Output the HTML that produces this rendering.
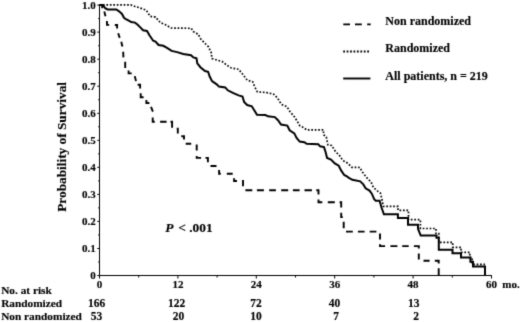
<!DOCTYPE html>
<html><head><meta charset="utf-8"><style>
html,body{margin:0;padding:0;background:#fff;width:520px;height:322px;overflow:hidden}
svg{display:block}
</style></head><body><svg width="520" height="322" viewBox="0 0 520 322"><filter id="soft" filterUnits="userSpaceOnUse" x="0" y="0" width="520" height="322" color-interpolation-filters="sRGB"><feConvolveMatrix order="3" kernelMatrix="0.0169 0.0962 0.0169 0.0962 0.5476 0.0962 0.0169 0.0962 0.0169" divisor="1" edgeMode="none" preserveAlpha="false"/></filter><rect width="520" height="322" fill="#fff"/><g filter="url(#soft)"><g font-family="Liberation Serif, Times New Roman, serif" font-weight="bold" stroke="#000" stroke-width="0.15" fill="#000"><text x="385.3" y="25.4" font-size="12">Non randomized</text><text x="385.3" y="52.3" font-size="12">Randomized</text><text x="385.3" y="79.6" font-size="12">All patients, n = 219</text><text x="95.8" y="279.2" font-size="11" text-anchor="end">0</text><text x="95.8" y="252.2" font-size="11" text-anchor="end">0.1</text><text x="95.8" y="225.1" font-size="11" text-anchor="end">0.2</text><text x="95.8" y="198.1" font-size="11" text-anchor="end">0.3</text><text x="95.8" y="171.0" font-size="11" text-anchor="end">0.4</text><text x="95.8" y="144.0" font-size="11" text-anchor="end">0.5</text><text x="95.8" y="117.0" font-size="11" text-anchor="end">0.6</text><text x="95.8" y="89.9" font-size="11" text-anchor="end">0.7</text><text x="95.8" y="62.9" font-size="11" text-anchor="end">0.8</text><text x="95.8" y="35.8" font-size="11" text-anchor="end">0.9</text><text x="95.8" y="8.8" font-size="11" text-anchor="end">1.0</text><text x="99.5" y="287.7" font-size="11" text-anchor="middle">0</text><text x="177.9" y="287.7" font-size="11" text-anchor="middle">12</text><text x="256.3" y="287.7" font-size="11" text-anchor="middle">24</text><text x="334.7" y="287.7" font-size="11" text-anchor="middle">36</text><text x="413.1" y="287.7" font-size="11" text-anchor="middle">48</text><text x="491.5" y="287.7" font-size="11" text-anchor="middle">60</text><text x="502.3" y="287.7" font-size="11">mo.</text><text x="1.2" y="293.5" font-size="11.3">No. at risk</text><text x="1.2" y="306.9" font-size="11.3">Randomized</text><text x="1.2" y="319.7" font-size="11.3">Non randomized</text><text x="96.6" y="306.9" font-size="11.5" text-anchor="middle">166</text><text x="176.5" y="306.9" font-size="11.5" text-anchor="middle">122</text><text x="256" y="306.9" font-size="11.5" text-anchor="middle">72</text><text x="334.4" y="306.9" font-size="11.5" text-anchor="middle">40</text><text x="413.8" y="306.9" font-size="11.5" text-anchor="middle">13</text><text x="96.5" y="319.7" font-size="11.5" text-anchor="middle">53</text><text x="178.4" y="319.7" font-size="11.5" text-anchor="middle">20</text><text x="256" y="319.7" font-size="11.5" text-anchor="middle">10</text><text x="336" y="319.7" font-size="11.5" text-anchor="middle">7</text><text x="416" y="319.7" font-size="11.5" text-anchor="middle">2</text><text x="165.3" y="231.9" font-size="13.4"><tspan font-style="italic">P</tspan><tspan dx="1.4"> &lt; .001</tspan></text><text transform="translate(65.7,211.8) rotate(-90)" font-size="13.3">Probability of Survival</text></g><path d="M99.5,275.5H491.8M99.5,4.5V275.5" stroke="#000" stroke-width="1" fill="none"/><path d="M97.3,275.5H99.5M98.2,262.0H99.5M97.3,248.5H99.5M98.2,234.9H99.5M97.3,221.4H99.5M98.2,207.9H99.5M97.3,194.4H99.5M98.2,180.9H99.5M97.3,167.3H99.5M98.2,153.8H99.5M97.3,140.3H99.5M98.2,126.8H99.5M97.3,113.3H99.5M98.2,99.7H99.5M97.3,86.2H99.5M98.2,72.7H99.5M97.3,59.2H99.5M98.2,45.7H99.5M97.3,32.1H99.5M98.2,18.6H99.5M97.3,5.1H99.5M99.5,275.5V278.5M138.7,275.5V277.5M177.9,275.5V278.5M217.1,275.5V277.5M256.3,275.5V278.5M295.5,275.5V277.5M334.7,275.5V278.5M373.9,275.5V277.5M413.1,275.5V278.5M452.3,275.5V277.5M491.5,275.5V278.5" stroke="#000" stroke-width="1" fill="none"/><polyline points="99.5,4.9 130.7,4.9 134.5,6.3 139.3,7.7 143.2,9.1 146.2,10.1 150.1,16.3 155.5,17.1 160.2,22.5 165.6,24.8 171.0,28.0 191.2,28.3 193.6,31.8 198.2,34.2 200.6,38.8 204.4,42.7 208.3,46.6 211.2,52.4 212.0,58.6 217.5,60.2 222.3,61.6 226.2,64.7 230.9,67.8 238.6,69.3 242.5,74.0 247.2,80.2 252.6,81.7 254.9,87.2 257.3,91.8 266.6,92.6 273.6,94.2 277.5,98.0 281.3,104.3 286.8,106.6 290.4,112.4 293.5,115.5 296.6,120.2 299.7,125.6 303.6,127.6 306.7,129.8 323.5,129.8 323.5,134.7 326.3,137.0 327.9,144.8 331.7,145.5 335.6,151.7 340.3,156.4 342.6,160.3 348.0,163.4 351.9,167.3 360.0,167.5 361.5,170.7 364.1,174.3 367.2,178.2 371.1,182.1 373.4,187.5 378.0,191.4 380.4,193.0 381.9,199.2 383.3,206.3 398.0,206.3 398.0,210.3 408.5,210.3 408.5,219.7 420.4,219.7 420.4,228.5 436.0,228.5 436.0,233.5 438.8,233.5 438.8,242.3 452.7,242.3 452.7,247.3 461.0,247.3 461.0,252.4 469.8,252.4 469.8,257.5 472.1,257.5 472.1,264.3 485.0,264.3" fill="none" stroke="#000" stroke-width="1.7" stroke-dasharray="1.7 1.75"/><path d="M99.5,5.0 L102.2,5.0 L102.2,8.2M104.3,11.6 L105.5,16.3M106.9,21.0 L107.0,24.9 L109.2,24.9M114.8,25.0 L117.1,25.0 L117.1,28.5M118.2,33.2 L119.7,37.9M121.3,41.7 L122.1,45.6 L123.2,45.6M123.2,51.8 L123.4,57.4M125.2,61.8 L125.2,68.0M128.6,70.5 L128.6,73.4 L131.7,73.4M134.8,76.1 L136.0,81.1M137.6,84.8 L140.1,84.8 L140.1,88.5M140.7,93.2 L140.7,97.2 L143.6,97.2M146.4,99.9 L146.4,103.0 L149.4,103.0M151.0,106.8 L152.9,111.7M152.7,117.6 L152.7,121.7 L154.8,121.7M160.1,121.7 L166.6,121.7M170.5,121.7 L172.1,121.7 L172.1,127.8M176.7,128.6 L177.8,128.6 L177.8,133.5M181.3,136.2 L184.0,136.2 L184.0,139.5M185.7,143.8 L191.2,143.8M196.7,144.5 L196.7,150.5M196.7,156.0 L196.7,157.9 L201.1,157.9M205.5,157.9 L207.9,157.9 L207.9,162.2M210.5,166.0 L216.5,166.0M219.1,169.9 L219.1,173.8 L220.8,173.8M226.8,173.8 L232.7,173.8M234.1,178.3 L234.1,181.0 L237.0,181.0M242.0,181.0 L243.0,181.0 L243.0,186.2M245.4,190.2 L252.3,190.2M256.9,190.2 L263.9,190.2M269.2,190.2 L275.9,190.2M281.2,190.2 L288.2,190.2M292.9,190.2 L299.6,190.2M304.5,190.2 L311.9,190.2M316.3,190.2 L318.5,190.2 L318.5,194.4M318.5,199.6 L318.5,202.2 L322.3,202.2M327.8,202.2 L334.8,202.2M339.6,202.2 L341.2,202.2 L341.2,207.4M341.2,212.8 L341.2,217.1 L342.8,217.1M343.7,221.7 L343.7,228.3M346.0,231.6 L352.8,231.6M357.9,231.6 L364.6,231.6M369.7,231.6 L376.4,231.6M380.0,233.5 L380.0,239.6M380.0,244.3 L380.0,246.1 L385.1,246.1M390.4,246.1 L397.4,246.1M402.2,246.1 L408.7,246.1M413.9,246.1 L418.8,246.1 L418.8,248.4M418.8,253.4 L418.8,259.5M423.5,260.8 L429.6,260.8M434.8,260.8 L438.7,260.8 L438.7,263.5M438.7,268.3 L438.7,275.4" fill="none" stroke="#000" stroke-width="1.9"/><polyline points="99.5,5.0 102.8,5.0 105.2,8.2 107.6,9.4 116.3,9.5 118.7,11.1 122.0,14.0 124.0,17.8 125.9,19.2 128.8,20.7 131.2,22.1 135.0,22.6 137.4,24.5 140.3,27.4 143.1,30.3 147.0,31.0 149.3,35.0 153.2,40.7 155.5,41.6 158.6,45.0 163.3,45.8 167.0,47.8 171.6,50.9 177.1,52.1 183.3,54.0 191.0,55.2 193.4,57.4 196.5,58.3 197.3,63.3 200.4,67.2 205.0,71.0 208.1,71.8 209.7,76.5 212.0,81.1 216.7,84.3 219.0,86.6 225.2,87.4 227.8,90.3 230.9,91.8 234.0,93.4 238.6,95.4 242.5,96.5 244.1,101.9 247.2,105.0 251.8,106.3 254.7,110.9 257.0,114.8 265.5,115.1 267.9,116.3 274.8,117.1 278.0,120.2 281.0,124.5 287.3,125.6 289.6,130.3 294.3,133.4 296.6,138.0 299.7,141.6 304.3,142.2 306.7,143.8 318.3,144.3 320.1,146.3 324.0,147.1 325.5,151.7 327.1,158.0 331.0,159.5 334.8,163.4 338.7,165.7 341.1,170.4 344.2,175.0 347.3,176.6 349.3,178.2 352.4,179.8 360.2,181.3 363.3,184.4 365.6,188.3 369.5,190.6 371.8,193.7 374.2,199.2 375.7,200.7 379.6,200.7 381.6,207.8 383.9,214.3 397.9,214.3 397.9,217.9 408.0,217.9 408.0,224.8 418.0,224.8 418.0,228.7 420.7,235.5 436.5,235.5 436.5,237.8 438.8,237.8 438.8,249.8 452.5,249.8 452.5,253.2 461.0,253.2 461.0,257.5 470.4,257.5 470.4,261.8 473.0,261.8 473.0,266.4 485.0,266.4 485.0,275.4" fill="none" stroke="#000" stroke-width="2"/><path d="M343.3,24.4H350M355,24.4H361.8M367.2,24.4H370.7" stroke="#000" stroke-width="1.8" fill="none"/><path d="M343.2,51.5H369.5" stroke="#000" stroke-width="1.9" stroke-dasharray="1.8 1.63" fill="none"/><path d="M343.2,78.5H370.4" stroke="#000" stroke-width="1.9" fill="none"/></g></svg></body></html>
